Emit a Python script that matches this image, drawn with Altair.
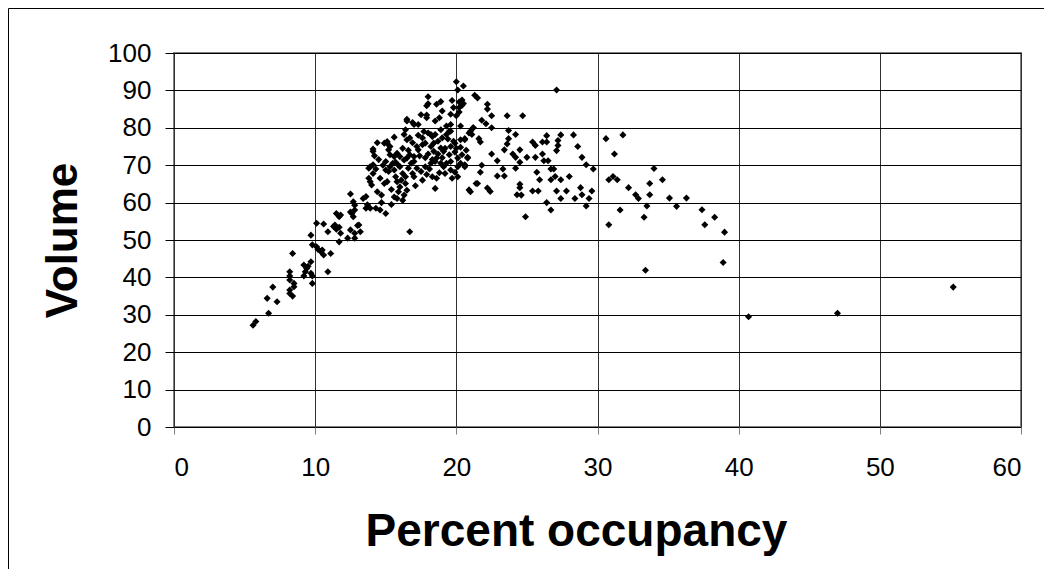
import altair as alt
import pandas as pd

occupancy = [
    5.6, 5.8, 6.7, 6.6, 7.3, 7.0, 8.2, 8.4, 8.2, 8.5, 8.5, 8.2, 8.2, 8.2, 8.4, 9.2, 9.3, 9.2, 9.4, 9.5,
    9.7, 9.8, 9.8, 9.7, 10.9, 9.7, 10.1, 10.6, 9.8, 10.1, 10.2, 10.4, 10.6, 10.5, 11.1, 10.9, 11.3, 11.5,
    11.8, 11.7, 11.4, 11.7, 11.5, 11.8, 11.7, 12.7, 12.8, 12.6, 12.7, 13.1, 12.5, 12.8, 12.3, 13.2, 12.8,
    12.5, 13.6, 13.7, 13.6, 12.8, 12.5, 13.0, 13.4, 13.9, 14.3, 14.6, 15.0, 16.7,
    13.9, 14.0, 14.1, 13.9, 14.1, 13.8, 14.4, 14.7, 14.9, 15.1, 15.2, 15.0, 15.3, 15.6, 15.7, 15.8, 16.0,
    15.9, 15.6, 15.8, 16.2, 16.3, 16.5, 16.4, 16.4, 16.2, 16.0, 16.6, 16.9, 17.0, 17.2, 17.6, 17.5, 17.8,
    18.2, 18.5, 18.6, 18.9, 19.1, 19.2, 19.6, 20.1, 20.3, 20.6, 20.8, 20.1, 19.6, 19.5, 19.1, 18.9, 18.4,
    18.2, 17.8, 17.6, 17.3, 17.0, 16.7, 16.5, 16.3, 16.0, 15.8, 15.6, 15.3, 15.1, 15.3, 15.2, 14.9, 14.1,
    16.3, 16.5, 16.7, 17.2, 17.6, 18.2, 18.0, 18.3, 18.5, 18.7, 19.0, 19.3, 19.6, 19.8, 19.9, 20.3, 20.6,
    20.9, 21.0, 21.2, 21.1, 21.5, 21.0, 18.5, 18.3, 18.6, 20.1, 17.9, 17.9, 18.6, 18.8, 18.5, 16.5, 17.0,
    17.3, 19.6, 19.3, 19.5, 19.6, 19.8, 20.2, 20.3, 20.0, 20.3, 18.4,
    20.0, 20.5, 20.1, 19.7, 20.4, 20.5, 18.0, 18.0, 18.9, 17.9, 16.5, 16.9, 14.1, 15.1, 20.9,
    20.2, 20.4, 20.2, 21.3, 21.5, 22.2, 22.2, 22.5, 21.8, 22.1, 22.5, 23.6, 24.7, 21.2, 20.6, 21.6, 21.7,
    23.7, 23.7, 24.2, 23.6, 22.5, 22.9, 23.4, 20.3, 20.8, 20.6, 19.9, 21.7, 22.9, 23.4, 23.3, 21.4, 22.2,
    22.4, 24.0, 24.5, 24.2, 25.0, 24.5, 24.2, 24.5, 24.5, 24.3, 24.6, 24.9, 25.4, 25.6, 26.1, 26.4, 26.4,
    25.6, 26.1, 26.2, 26.5, 25.7, 25.9, 26.7, 26.9, 26.7, 27.0, 27.4, 28.0, 25.4, 25.8, 26.4, 26.7, 27.1,
    27.4, 27.8, 28.4, 28.8, 28.9, 29.2, 29.4, 29.6, 27.1, 27.2, 27.2, 27.4, 27.1, 28.3, 28.6, 28.9, 29.2,
    29.7, 30.6, 31.2, 31.8, 30.8, 31.1, 31.4, 30.8, 31.6, 32.2, 32.7, 32.9, 33.5, 33.7, 33.7, 34.0, 34.6,
    33.3, 33.4, 35.1, 35.6, 36.3, 37.4, 37.6, 38.3, 39.0, 38.9, 40.7, 47.0, 55.2,
    14.5, 14.8, 14.3, 15.0, 15.5, 15.9, 16.2, 16.6, 17.0, 17.4, 17.8, 18.0, 18.3, 18.7, 19.0, 19.2, 19.6,
    19.9, 17.7, 18.9, 19.4, 16.9,
    14.2, 14.6, 15.4, 15.7, 16.1, 16.8, 17.1, 17.3, 17.9, 18.1, 18.8, 19.3, 19.7, 20.0, 20.4, 20.7, 16.4,
    15.6, 14.4, 13.8, 14.7, 15.4, 17.5, 19.0, 21.8,
]

volume = [
    27.2, 28.2, 30.4, 34.4, 33.5, 37.4, 35.7, 35.0, 36.6, 37.5, 38.4, 39.3, 40.4, 41.5, 46.4, 40.4, 41.5,
    43.3, 42.4, 43.0, 44.2, 40.4, 38.4, 41.1, 41.5, 51.3, 54.5, 54.3, 48.7, 48.2, 47.5, 46.9, 46.0, 47.3,
    46.4, 52.2, 53.6, 52.9, 51.8, 49.5, 54.0, 53.4, 57.1, 56.7, 56.2, 60.2, 58.0, 57.1, 56.2, 54.0, 52.7,
    51.8, 50.5, 52.2, 50.5, 62.3, 61.6, 59.4, 58.5, 59.3, 57.5, 53.9, 61.1, 58.5, 58.5, 58.0, 57.1, 52.2,
    65.6, 64.7, 67.8, 69.6, 70.1, 69.2, 62.9, 62.0, 65.1, 65.6, 68.3, 68.7, 69.6, 68.7, 66.9, 65.6, 64.2,
    62.9, 61.5, 61.1, 60.6, 62.0, 63.3, 65.1, 66.9, 67.8, 69.6, 69.2, 67.8, 66.9, 69.2, 66.0, 68.3, 69.6,
    70.5, 71.0, 71.9, 70.5, 69.6, 67.8, 68.7, 69.6, 70.5, 69.6, 71.9, 71.9, 71.0, 72.8, 73.7, 74.6, 73.7,
    75.0, 75.9, 75.5, 74.1, 72.3, 72.8, 71.9, 71.4, 72.3, 73.2, 72.3, 72.8, 75.9, 75.0, 74.1, 75.9, 73.7,
    78.2, 76.8, 77.3, 75.0, 77.3, 78.2, 78.6, 77.7, 78.2, 76.4, 77.3, 78.2, 79.1, 76.4, 75.9, 76.8, 76.8,
    78.6, 79.1, 80.0, 78.2, 65.1, 62.9, 63.8, 66.9, 66.5, 66.9, 82.7, 85.9, 86.3, 82.7, 81.8, 81.8, 80.9,
    80.9, 80.9, 80.5, 79.1, 83.6, 85.4, 85.4, 86.8, 83.2, 80.5, 75.9,
    92.3, 91.2, 90.1, 87.3, 87.4, 86.5, 88.3, 86.4, 87.0, 83.4, 82.3, 81.4, 74.3, 76.3, 63.4,
    86.9, 86.0, 84.2, 88.7, 88.0, 86.3, 85.0, 83.2, 82.0, 81.1, 80.0, 83.2, 83.2, 80.0, 77.1, 77.1, 76.2,
    79.3, 77.1, 78.2, 75.7, 73.0, 71.2, 74.1, 74.8, 72.1, 70.1, 68.1, 68.1, 67.1, 67.1, 69.0, 65.1, 63.9,
    63.0, 73.0, 74.1, 72.1, 72.1, 70.8, 69.2, 64.9, 64.0, 62.1, 62.0, 56.2, 76.2, 75.3, 76.2, 76.2, 77.9,
    72.1, 73.0, 71.2, 71.2, 68.1, 66.1, 69.0, 69.0, 66.1, 67.0, 66.1, 67.0, 63.1, 63.1, 60.0, 58.0, 63.1,
    61.1, 63.1, 61.1, 64.0, 62.1, 59.1, 61.1, 63.1, 73.9, 75.3, 76.6, 78.1, 90.1, 78.1, 75.0, 72.1, 70.1,
    69.0, 77.1, 73.0, 78.1, 66.1, 67.0, 66.1, 54.1, 58.0, 64.0, 62.1, 61.1, 59.1, 65.1, 62.1, 69.1, 66.1,
    56.1, 41.9, 61.2, 59.0, 61.2, 58.1, 54.1, 56.1, 52.1, 44.0, 29.5, 30.4, 37.4,
    71.5, 70.0, 69.0, 71.0, 70.5, 70.0, 74.5, 74.0, 71.0, 72.5, 72.0, 73.0, 71.5, 73.0, 72.0, 74.5, 75.0,
    73.5, 79.0, 79.5, 77.0, 76.0,
    72.5, 66.5, 63.5, 70.8, 66.0, 70.5, 64.5, 78.0, 67.5, 69.0, 68.0, 70.5, 66.5, 74.5, 72.8, 74.0, 79.5,
    77.5, 76.0, 66.5, 60.0, 59.5, 83.5, 84.5, 70.0,
]

x_ticks = [0, 10, 20, 30, 40, 50, 60]
y_ticks = [0, 10, 20, 30, 40, 50, 60, 70, 80, 90, 100]

df = pd.DataFrame({"occupancy": occupancy, "volume": volume})

FONT = "Liberation Sans"

x_axis = alt.Axis(
    values=x_ticks, grid=True, gridColor="#303030", gridWidth=1, domain=False,
    tickColor="#808080", tickSize=7, tickWidth=1,
    labelFont=FONT, labelFontSize=26, labelColor="black", labelPadding=20,
    title="Percent occupancy", titleFont=FONT, titleFontSize=46, titleFontWeight="bold",
    titleColor="black", titleX=402, titleY=118, titleBaseline="alphabetic", titleAlign="center",
)
y_axis = alt.Axis(
    values=y_ticks, grid=True, gridColor="black", gridWidth=1, domain=False,
    tickColor="black", tickSize=9, tickWidth=1,
    labelFont=FONT, labelFontSize=26, labelColor="black", labelPadding=14,
    title="Volume", titleFont=FONT, titleFontSize=44, titleFontWeight="bold",
    titleColor="black", titleAngle=270, titleX=-98, titleY=187,
    titleBaseline="alphabetic", titleAlign="center",
)

points = alt.Chart(df).mark_point(
    shape="diamond", filled=True, color="black", size=50, opacity=1
).encode(
    x=alt.X("occupancy:Q", scale=alt.Scale(domain=[0, 60], nice=False), axis=x_axis),
    y=alt.Y("volume:Q", scale=alt.Scale(domain=[0, 100], nice=False), axis=y_axis),
)

frame_src = pd.DataFrame({"b": [0]})
left_edge = alt.Chart(frame_src).mark_rule(color="black", strokeWidth=1).encode(
    x=alt.value(-165.5), y=alt.value(-44.5), y2=alt.value(2000)
)
top_edge = alt.Chart(frame_src).mark_rule(color="black", strokeWidth=1).encode(
    x=alt.value(-165.5), x2=alt.value(2000), y=alt.value(-44.5)
)

chart = alt.layer(left_edge, top_edge, points).properties(
    width=847, height=374,
    autosize=alt.AutoSizeParams(type="none"),
    padding={"left": 166, "top": 45, "right": 23, "bottom": 142},
    background="white",
).configure_view(stroke="#808080", strokeWidth=2)

chart.save("out.html", embed_options={"renderer": "svg", "actions": False})
